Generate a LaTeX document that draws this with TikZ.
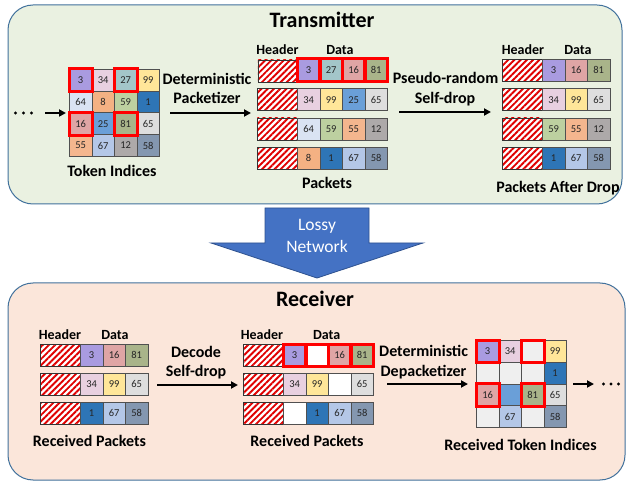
\documentclass[tikz,border=0pt]{standalone}
\usepackage{fontspec}
\setmainfont{Carlito}
\usetikzlibrary{arrows.meta,patterns.meta}
\definecolor{cA}{HTML}{A99BE0}% 3
\definecolor{cB}{HTML}{E8D0E0}% 34
\definecolor{cC}{HTML}{A3C6C9}% 27
\definecolor{cD}{HTML}{FFE699}% 99
\definecolor{cE}{HTML}{DAE3F3}% 64
\definecolor{cF}{HTML}{F4B183}% 8
\definecolor{cG}{HTML}{BDD0A0}% 59
\definecolor{cH}{HTML}{2E75B6}% 1
\definecolor{cI}{HTML}{DFA5A5}% 16
\definecolor{cJ}{HTML}{6A9FD8}% 25
\definecolor{cK}{HTML}{A9B48A}% 81
\definecolor{cL}{HTML}{DEDEDE}% 65
\definecolor{cM}{HTML}{F4B68E}% 55
\definecolor{cN}{HTML}{B4C7E7}% 67
\definecolor{cO}{HTML}{ADA9A9}% 12
\definecolor{cP}{HTML}{8497B0}% 58
\definecolor{cZ}{HTML}{EFEFEF}% empty grid
\definecolor{cellline}{HTML}{505050}
\definecolor{txt}{HTML}{262626}
\definecolor{stripe}{HTML}{E00000}
\definecolor{panelline}{HTML}{41719C}
\definecolor{greenbg}{HTML}{EAF1E1}
\definecolor{peachbg}{HTML}{FBE6DA}
\definecolor{lossy}{HTML}{4472C4}
\definecolor{lossyline}{HTML}{2F528F}
\newcommand\mkpkt[4]{%
  \node[hdr] (#1-h) at (#2,#3) {};
  \foreach \c/\t [count=\k] in {#4} {
    \node[cell, fill=\c] (#1-\k) at ({#2+40+(\k-1)*22.5},#3) {\t};
  }%
}
\newcommand\rbox[1]{\draw[redbox] (#1.north west) rectangle (#1.south east);}
\begin{document}
\begin{tikzpicture}[x=1pt,y=-1pt,
  cell/.style={draw=cellline, line width=0.8pt, minimum width=22.5pt, minimum height=22pt, inner sep=0pt, anchor=north west, font=\fontsize{10.5}{12}\selectfont, text=txt},
  gcell/.style={cell, minimum height=21.75pt},
  hdr/.style={draw=black!80, line width=0.8pt, minimum width=40pt, minimum height=22pt, inner sep=0pt, anchor=north west, preaction={fill=white}, pattern={Lines[angle=45,distance=4.4pt,line width=1.9pt]}, pattern color=stripe},
  redbox/.style={draw=red, line width=3pt},
  lbl/.style={font=\fontsize{16}{19}\selectfont\bfseries, inner sep=0pt, anchor=base},
  hlbl/.style={font=\fontsize{14}{17}\selectfont\bfseries, inner sep=0pt, anchor=base},
  ttl/.style={font=\fontsize{22}{26}\selectfont\bfseries, inner sep=0pt, anchor=base},
  arr/.style={line width=2pt, -{Triangle[length=7pt,width=7pt]}},
  dotn/.style={circle, fill=black, inner sep=0pt, minimum size=3.4pt},
  panel/.style={draw=panelline, line width=1pt, rounded corners=25pt},
]
\useasboundingbox (0,0) rectangle (627,481);
% panels
\draw[panel, fill=greenbg] (8,5) rectangle (622,204);
\draw[panel, fill=peachbg] (8,283) rectangle (625,480);
\node[ttl] (ttx) at (322,28) {Transmitter};
\node[ttl] (trx) at (315,306) {Receiver};
% lossy network arrow
\draw[fill=lossy, draw=lossyline, line width=0.8pt] (265,208) -- (369,208) -- (369,243) -- (423,243) -- (317,278) -- (211,243) -- (265,243) -- cycle;
\node[anchor=base, inner sep=0pt, text=white, font=\fontsize{17.5}{20}\selectfont] (ln1) at (317,230.7) {Lossy};
\node[anchor=base, inner sep=0pt, text=white, font=\fontsize{17.5}{20}\selectfont] (ln2) at (317,252.7) {Network};

% ---------- Transmitter ----------
\node[dotn] (dl1) at (15.5,113) {};
\node[dotn] (dl2) at (23.5,113) {};
\node[dotn] (dl3) at (31.5,113) {};
\coordinate (a0s) at (45,113);
\coordinate (a0e) at (66,113);
\draw[arr] (a0s) -- (a0e);
% token grid
\foreach \row [count=\r] in {{cA/3,cB/34,cC/27,cD/99},{cE/64,cF/8,cG/59,cH/1},{cI/16,cJ/25,cK/81,cL/65},{cM/55,cN/67,cO/12,cP/58}} {
  \foreach \c/\t [count=\k] in \row {
    \node[gcell, fill=\c] (tg-\r-\k) at ({69+(\k-1)*22.5},{69+(\r-1)*21.75}) {\t};
  }
}
\rbox{tg-1-1}\rbox{tg-1-3}\rbox{tg-3-1}\rbox{tg-3-3}
\node[lbl] (ltok) at (112,177) {Token Indices};
% packetizer
\node[lbl] (lp1) at (207,85) {Deterministic};
\node[lbl] (lp2) at (207,104) {Packetizer};
\coordinate (a1s) at (170,113);
\coordinate (a1e) at (251,113);
\draw[arr] (a1s) -- (a1e);
% packets
\node[hlbl] (ph) at (277.5,55) {Header};
\node[hlbl] (pd) at (340,55) {Data};
\mkpkt{pa}{257}{59}{cA/3,cC/27,cI/16,cK/81}
\mkpkt{pb}{257}{88.3}{cB/34,cD/99,cJ/25,cL/65}
\mkpkt{pc}{257}{117.6}{cE/64,cG/59,cM/55,cO/12}
\mkpkt{pd}{257}{147}{cF/8,cH/1,cN/67,cP/58}
\rbox{pa-1}\rbox{pa-2}\rbox{pa-3}\rbox{pa-4}
\node[lbl] (lpk) at (327,189) {Packets};
% self-drop
\node[lbl] (ls1) at (445.5,84) {Pseudo-random};
\node[lbl] (ls2) at (445,104) {Self-drop};
\coordinate (a2s) at (399,112);
\coordinate (a2e) at (491,112);
\draw[arr] (a2s) -- (a2e);
% packets after drop
\node[hlbl] (qh) at (523,55) {Header};
\node[hlbl] (qd) at (578,55) {Data};
\mkpkt{qa}{502}{59}{cA/3,cI/16,cK/81}
\mkpkt{qb}{502}{88.3}{cB/34,cD/99,cL/65}
\mkpkt{qc}{502}{117.6}{cG/59,cM/55,cO/12}
\mkpkt{qd}{502}{147}{cH/1,cN/67,cP/58}
\node[lbl] (lpad) at (558,193) {Packets After Drop};

% ---------- Receiver ----------
\node[hlbl] (rh) at (60,340) {Header};
\node[hlbl] (rd) at (115,340) {Data};
\mkpkt{ra}{40}{344}{cA/3,cI/16,cK/81}
\mkpkt{rb}{40}{373}{cB/34,cD/99,cL/65}
\mkpkt{rc}{40}{402}{cH/1,cN/67,cP/58}
\node[lbl] (lrp1) at (89.5,446.7) {Received Packets};
% decode self-drop
\node[lbl] (ld1) at (196,357.3) {Decode};
\node[lbl] (ld2) at (196,376.7) {Self-drop};
\coordinate (a3s) at (157,385);
\coordinate (a3e) at (238,385);
\draw[arr] (a3s) -- (a3e);
% received packets 2
\node[hlbl] (sh) at (262,340) {Header};
\node[hlbl] (sd) at (326.7,340) {Data};
\mkpkt{sa}{243}{344}{cA/3,white/{},cI/16,cK/81}
\mkpkt{sb}{243}{373}{cB/34,cD/99,white/{},cL/65}
\mkpkt{sc}{243}{402}{white/{},cH/1,cN/67,cP/58}
\rbox{sa-1}\rbox{sa-2}\rbox{sa-3}\rbox{sa-4}
\node[lbl] (lrp2) at (307,446) {Received Packets};
% depacketizer
\node[lbl] (ldp1) at (423.6,356.7) {Deterministic};
\node[lbl] (ldp2) at (423.5,376.7) {Depacketizer};
\coordinate (a4s) at (387,384);
\coordinate (a4e) at (468,384);
\draw[arr] (a4s) -- (a4e);
% received grid
\foreach \row [count=\r] in {{cA/3,cB/34,cZ/{},cD/99},{cZ/{},cZ/{},cZ/{},cH/1},{cI/16,cJ/{},cK/81,cL/65},{cZ/{},cN/67,cZ/{},cP/58}} {
  \foreach \c/\t [count=\k] in \row {
    \node[gcell, fill=\c] (rg-\r-\k) at ({476+(\k-1)*22.5},{340+(\r-1)*21.75}) {\t};
  }
}
\rbox{rg-1-1}\rbox{rg-1-3}\rbox{rg-3-1}\rbox{rg-3-3}
\node[lbl] (lrti) at (520.5,450.7) {Received Token Indices};
\coordinate (a5s) at (573,384);
\coordinate (a5e) at (594,384);
\draw[arr] (a5s) -- (a5e);
\node[dotn] (dr1) at (603.5,384) {};
\node[dotn] (dr2) at (611,384) {};
\node[dotn] (dr3) at (618.5,384) {};
\end{tikzpicture}
\end{document}
